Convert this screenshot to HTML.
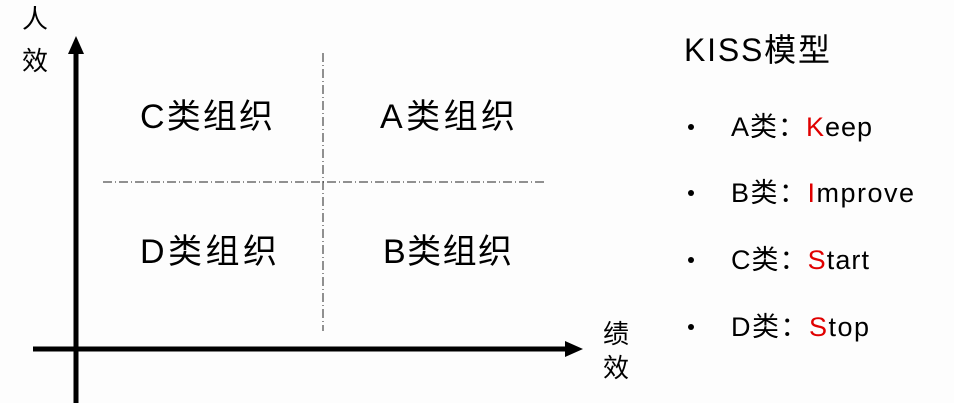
<!DOCTYPE html>
<html><head><meta charset="utf-8"><style>
html,body{margin:0;padding:0;background:#fdfdfd;}
svg{display:block;font-family:"Liberation Sans","Noto Sans CJK SC",sans-serif;}
</style></head><body>
<svg width="954" height="403" viewBox="0 0 954 403">
<rect width="954" height="403" fill="#fdfdfd"/>
<line x1="76" y1="52" x2="76" y2="403" stroke="#000" stroke-width="5"/>
<polygon points="76,36 68,54 84,54" fill="#000"/>
<line x1="33" y1="349" x2="567" y2="349" stroke="#000" stroke-width="5"/>
<polygon points="583,349 565,341 565,357" fill="#000"/>
<line x1="323" y1="53" x2="323" y2="331" stroke="#222" stroke-width="1" stroke-dasharray="9,3,1,3"/>
<line x1="103" y1="182" x2="546" y2="182" stroke="#222" stroke-width="1" stroke-dasharray="9,3,1,3"/>
<text x="22" y="28" font-size="26">人</text>
<text x="22" y="70" font-size="26">效</text>
<text x="603" y="343" font-size="26">绩</text>
<text x="603" y="377" font-size="26">效</text>
<text x="140" y="128" font-size="34" textLength="133">C类组织</text>
<text x="380" y="128" font-size="34" textLength="135">A类组织</text>
<text x="140" y="263" font-size="34" textLength="137">D类组织</text>
<text x="383" y="263" font-size="34" textLength="129">B类组织</text>
<text x="684" y="61" font-size="32" textLength="146">KISS模型</text>
<g font-size="27">
<circle cx="691" cy="127" r="3" fill="#000"/>
<text x="731" y="136" textLength="141">A类：<tspan fill="#e00000">K</tspan>eep</text>
<circle cx="691" cy="193" r="3" fill="#000"/>
<text x="731" y="202" textLength="183">B类：<tspan fill="#e00000">I</tspan>mprove</text>
<circle cx="691" cy="260" r="3" fill="#000"/>
<text x="731" y="269" textLength="138">C类：<tspan fill="#e00000">S</tspan>tart</text>
<circle cx="691" cy="327" r="3" fill="#000"/>
<text x="731" y="336" textLength="138">D类：<tspan fill="#e00000">S</tspan>top</text>
</g>
</svg>
</body></html>
